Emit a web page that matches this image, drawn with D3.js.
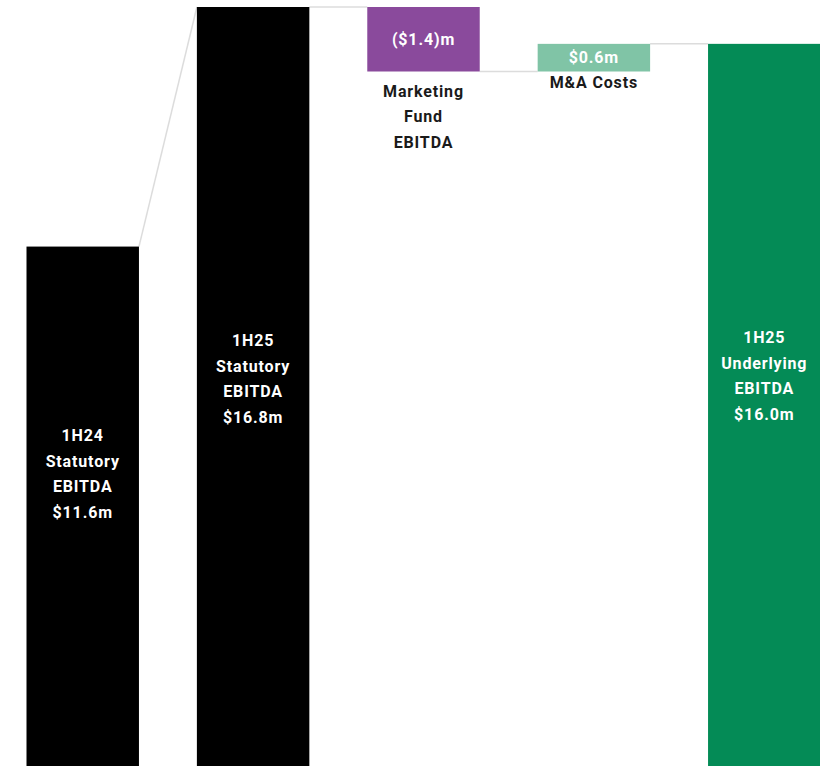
<!DOCTYPE html>
<html>
<head>
<meta charset="utf-8">
<script src="https://cdn.jsdelivr.net/npm/d3@7"></script>
<style>
  html, body { margin: 0; padding: 0; background: #fff; }
  svg { display: block; font-family: Roboto, "Liberation Sans", sans-serif; }
  text { letter-spacing: 0.85px; }
</style>
</head>
<body>
<svg id="chart" width="820" height="766"></svg>
<script>
// chart values
var categories = [["1H24", "Statutory", "EBITDA"], ["1H25", "Statutory", "EBITDA"],
    ["Marketing", "Fund", "EBITDA"], ["M&A Costs"], ["1H25", "Underlying", "EBITDA"]];
var values = [11.6, 16.8, -1.4, 0.6, 16.0];
var kinds = ["total", "total", "delta", "delta", "total"];
var valueLabels = ["$11.6m", "$16.8m", "($1.4)m", "$0.6m", "$16.0m"];

var colors = ["#000000", "#000000", "#8a4a9c", "#80c4a6", "#048b56"];
var labelMid = [474, 379, null, null, 376];
var lineGap = 25.5;
var fontSize = 16;

var svg = d3.select("#chart");

// work out start / end of every step
var steps = [];
var running = 0;
values.forEach(function(v, i) {
    var start, end;
    if (kinds[i] == "total") { start = 0; end = v; }
    else { start = running; end = running + v; }
    running = end;
    steps.push({ i: i, start: start, end: end, lines: categories[i], label: valueLabels[i] });
});

var x = d3.scaleBand()
    .domain(d3.range(values.length))
    .range([26.5, 820.5])
    .paddingInner(0.34)
    .paddingOuter(0);

var y = d3.scaleLinear()
    .domain([0, 16.8])
    .range([781, 7]);

// connectors
for (var i = 0; i < steps.length - 1; i++) {
    var nxt = steps[i + 1];
    var nextStart = kinds[i + 1] == "total" ? nxt.end : nxt.start;
    svg.append("line")
        .attr("x1", x(i) + x.bandwidth())
        .attr("y1", y(steps[i].end))
        .attr("x2", x(i + 1))
        .attr("y2", y(nextStart))
        .attr("stroke", "#dcdcdc")
        .attr("stroke-width", 1.5);
}

svg.selectAll("rect.bar")
    .data(steps)
    .enter()
    .append("rect")
    .attr("class", "bar")
    .attr("x", d => x(d.i))
    .attr("width", x.bandwidth())
    .attr("y", d => y(Math.max(d.start, d.end)))
    .attr("height", d => Math.abs(y(d.start) - y(d.end)))
    .attr("fill", d => colors[d.i]);

// labels inside the totals
steps.filter(d => kinds[d.i] == "total").forEach(function(d) {
    var lines = d.lines.concat([d.label]);
    var mid = labelMid[d.i];
    var t = svg.append("text")
        .attr("text-anchor", "middle")
        .attr("fill", "#fff")
        .attr("font-size", fontSize)
        .attr("font-weight", "bold");
    lines.forEach(function(s, k) {
        t.append("tspan")
            .attr("x", x(d.i) + x.bandwidth() / 2)
            .attr("y", mid + (k - (lines.length - 1) / 2) * lineGap)
            .attr("dy", "0.35em")
            .text(s);
    });
});

// labels for the steps
steps.filter(d => kinds[d.i] == "delta").forEach(function(d) {
    var top = y(Math.max(d.start, d.end));
    var bottom = y(Math.min(d.start, d.end));
    var cx = x(d.i) + x.bandwidth() / 2;
    svg.append("text")
        .attr("x", cx)
        .attr("y", (top + bottom) / 2)
        .attr("dy", "0.35em")
        .attr("text-anchor", "middle")
        .attr("fill", "#fff")
        .attr("font-size", fontSize)
        .attr("font-weight", "bold")
        .text(d.label);

    var first = d.lines.length > 1 ? 91 : 82;
    var t = svg.append("text")
        .attr("text-anchor", "middle")
        .attr("fill", "#1a1a1a")
        .attr("font-size", fontSize)
        .attr("font-weight", "bold");
    d.lines.forEach(function(s, k) {
        t.append("tspan")
            .attr("x", cx)
            .attr("y", first + k * lineGap)
            .attr("dy", "0.35em")
            .text(s);
    });
});
</script>
</body>
</html>
